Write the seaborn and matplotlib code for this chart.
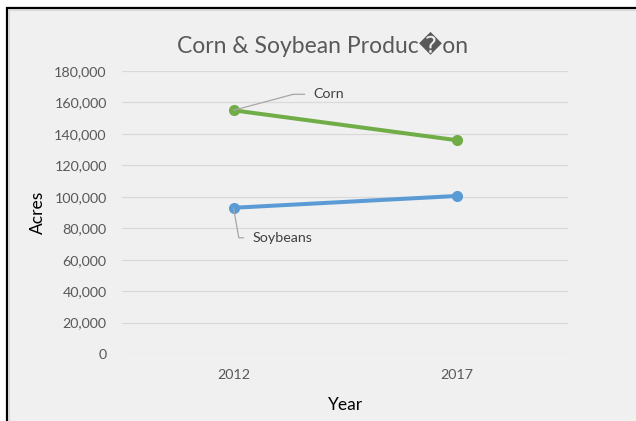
import matplotlib
matplotlib.use("Agg")
import matplotlib.pyplot as plt
import seaborn as sns
import pandas as pd
from matplotlib.patches import Rectangle
from matplotlib.ticker import FuncFormatter

years = ["2012", "2017"]
corn = [155000, 136000]
soybeans = [93000, 100500]
series_names = ["Corn", "Soybeans"]
colors = ["#70ad47", "#5b9bd5"]

df = pd.DataFrame({
    "Year": years * 2,
    "Acres": corn + soybeans,
    "Crop": [series_names[0]] * 2 + [series_names[1]] * 2,
})

sns.set_theme(style="white")
plt.rcParams["font.family"] = ["Lato", "DejaVu Sans"]

W, H = 636, 421
fig = plt.figure(figsize=(W / 100, H / 100), dpi=100, facecolor="white")
bg = "#f0f0f0"
# chart area frame
fig.patches.append(Rectangle((7 / W, -0.1), 1.2, (H - 8) / H + 0.1, transform=fig.transFigure,
                             facecolor=bg, edgecolor="black", linewidth=1.6, zorder=-2))
fig.patches.append(Rectangle((9 / W, -0.1), 1.2, (H - 10) / H + 0.1, transform=fig.transFigure,
                             facecolor="none", edgecolor="#d9d9d9", linewidth=0.8, zorder=-1))

ax = fig.add_axes([122 / W, (H - 354) / H, 446 / W, 283 / H])
ax.set_facecolor(bg)

sns.lineplot(data=df, x="Year", y="Acres", hue="Crop", palette=colors, hue_order=series_names,
             marker="o", markersize=8, markeredgewidth=0, linewidth=2.9, ax=ax, legend=False,
             sort=False)

ax.set_xlim(-0.5, 1.5)
ax.set_ylim(0, 180000)
ax.set_yticks(range(0, 180001, 20000))
ax.yaxis.set_major_formatter(FuncFormatter(lambda v, p: f"{int(v):,}"))
ax.grid(axis="y", color="#d9d9d9", linewidth=0.9)
ax.grid(axis="x", visible=False)
ax.set_axisbelow(True)
for s in ax.spines.values():
    s.set_visible(False)
ax.tick_params(axis="both", length=0, labelsize=10.3, labelcolor="#595959")
ax.tick_params(axis="y", pad=11)
ax.tick_params(axis="x", pad=11)
ax.set_xlabel("Year", fontsize=12.5, color="black", labelpad=11)
ax.set_ylabel("Acres", fontsize=12.5, color="black", labelpad=6)

fig.text(323 / W, 1 - 44 / H, "Corn & Soybean Produc\ufffdon", ha="center", va="center",
         fontsize=16.5, color="#595959")

lead = dict(arrowstyle="-", color="#a6a6a6", linewidth=0.9, shrinkA=4, shrinkB=0,
            relpos=(0, 0.5))
ax.annotate(series_names[0], xy=(0, corn[0]), xycoords="data", xytext=(80, 16),
            textcoords="offset pixels", ha="left", va="center", fontsize=10.3, color="#404040",
            arrowprops=dict(lead, connectionstyle="angle,angleA=0,angleB=15,rad=0"))
ax.annotate(series_names[1], xy=(0, soybeans[0]), xycoords="data", xytext=(19, -30),
            textcoords="offset pixels", ha="left", va="center", fontsize=10.3, color="#404040",
            arrowprops=dict(lead, connectionstyle="angle,angleA=0,angleB=-80,rad=0"))

fig.savefig("out.png", dpi=100, facecolor="white")
